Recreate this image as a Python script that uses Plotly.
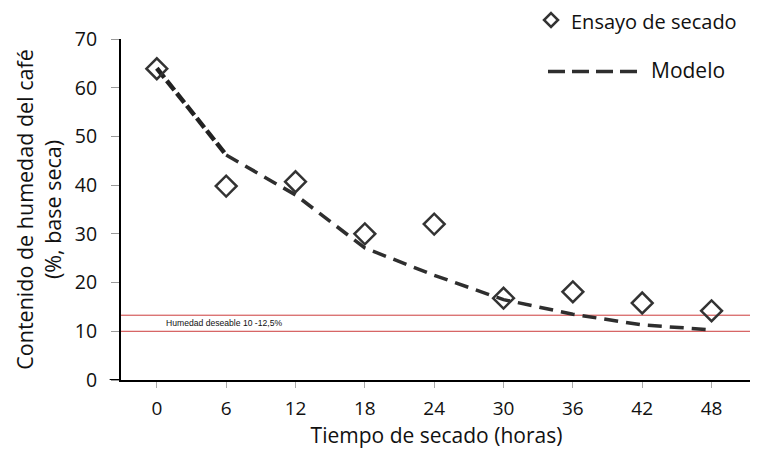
import plotly.graph_objects as go

# Data
hours = [0, 6, 12, 18, 24, 30, 36, 42, 48]
ensayo = [63.9, 39.8, 40.7, 30.0, 32.0, 16.8, 18.1, 15.8, 14.2]
modelo = [64.0, 46.2, 38.0, 27.1, 21.5, 16.5, 13.5, 11.3, 10.3]
humedad_min = 10.0
humedad_max = 13.3
x_ticks = [0, 6, 12, 18, 24, 30, 36, 42, 48]
y_ticks = [0, 10, 20, 30, 40, 50, 60, 70]
legend_names = ["Ensayo de secado", "Modelo"]

FONT = "Open Sans"
DARK = "#2e2e2e"

fig = go.Figure()

# model: first segment drawn a bit heavier, as in the reference
fig.add_trace(go.Scatter(
    x=hours[:2], y=modelo[:2], mode="lines", name=legend_names[1],
    line=dict(color="#222", width=4.5, dash="12px,4px"), showlegend=False,
))
fig.add_trace(go.Scatter(
    x=hours[1:], y=modelo[1:], mode="lines", name=legend_names[1],
    line=dict(color=DARK, width=3.5, dash="14px,8px"), showlegend=False,
))
fig.add_trace(go.Scatter(
    x=hours, y=ensayo, mode="markers", name=legend_names[0],
    marker=dict(symbol="diamond-open", size=16, color="#333",
                line=dict(width=2.5, color="#333")), showlegend=False,
))

# desirable moisture band lines
for yv in (humedad_min, humedad_max):
    fig.add_shape(type="line", xref="paper", x0=0, x1=1, yref="y", y0=yv, y1=yv,
                  line=dict(color="#cc3c3c", width=1), layer="below")

fig.add_annotation(x=0.068, xref="paper", y=(humedad_min + humedad_max) / 2, yref="y",
                   text="Humedad deseable 10 -12,5%", showarrow=False,
                   xanchor="left", yanchor="middle",
                   font=dict(family="Liberation Sans, Arial, sans-serif", size=8.6, color="#111"))

# x axis line stub extending left of y axis
fig.add_shape(type="line", xref="paper", x0=-0.018, x1=0, yref="y", y0=0, y1=0,
              line=dict(color="black", width=2))

# manual legend (paper coords)
cx, cy, hw, hh = 0.6815, 1.0557, 0.0111, 0.0205
fig.add_shape(type="path", xref="paper", yref="paper",
              path=f"M {cx} {cy + hh} L {cx + hw} {cy} L {cx} {cy - hh} L {cx - hw} {cy} Z",
              line=dict(color="#333", width=2.5), fillcolor="white")
fig.add_annotation(x=0.71, xref="paper", y=cy - 0.004, yref="paper", text=legend_names[0],
                   showarrow=False, xanchor="left", yanchor="middle",
                   font=dict(size=20, family=FONT, color="#111"))
fig.add_shape(type="line", xref="paper", yref="paper", x0=0.6767, x1=0.8225, y0=0.905, y1=0.905,
              line=dict(color=DARK, width=3.5, dash="17px,7px"))
fig.add_annotation(x=0.836, xref="paper", y=0.909, yref="paper", text=legend_names[1],
                   showarrow=False, xanchor="left", yanchor="middle",
                   font=dict(size=21, family=FONT, color="#111"))

# page body has an 8px default margin: plot area placed so that on screen it spans
# x 121..752 and y 39..380
fig.update_layout(
    width=750, height=448,
    margin=dict(l=113, r=6, t=31, b=76, autoexpand=False),
    paper_bgcolor="white", plot_bgcolor="white",
    font=dict(family=FONT, color="#111", size=19),
    showlegend=False,
    xaxis=dict(range=[-3.1, 51.5], tickvals=x_ticks, ticktext=[str(v) for v in x_ticks],
               showgrid=False, zeroline=False, showline=True, linecolor="black", linewidth=2,
               ticks="outside", ticklen=6, tickcolor="#aaa", tickwidth=1,
               ticklabelstandoff=4,
               title=dict(text="Tiempo de secado (horas)", font=dict(size=21), standoff=7),
               tickfont=dict(size=19), automargin=False),
    yaxis=dict(range=[0, 70], tickvals=y_ticks, showgrid=False, zeroline=False,
               showline=True, linecolor="black", linewidth=2,
               ticks="outside", ticklen=8, tickcolor="#999", tickwidth=1,
               ticklabelstandoff=10,
               title=dict(text="Contenido de humedad del café<br>(%, base seca)",
                          font=dict(size=21.5), standoff=7),
               tickfont=dict(size=19.5), automargin=False),
)

fig.write_html("out.html")
